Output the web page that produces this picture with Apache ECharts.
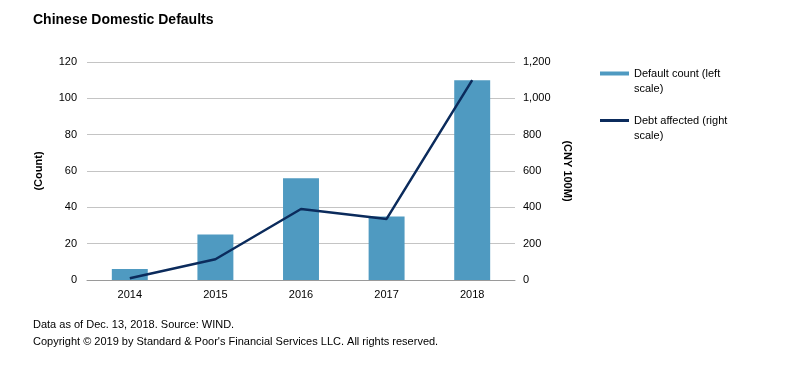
<!DOCTYPE html>
<html><head><meta charset="utf-8">
<script src="https://cdn.jsdelivr.net/npm/echarts@6/dist/echarts.min.js"></script>
<style>html,body{margin:0;padding:0;background:#fff}#c{width:799px;height:381px}</style>
</head><body><div id="c"></div>
<script>
const categories = ['2014','2015','2016','2017','2018'];
const defaultCount = [6, 25, 56, 35, 110];
const debtAffected = [10, 114, 391, 336, 1100];
const leftTicks = {min:0, max:120, interval:20};
const rightTicks = {min:0, max:1200, interval:200};
const barName = 'Default count (left\nscale)';
const lineName = 'Debt affected (right\nscale)';

const FONT = '"Liberation Sans", Arial, sans-serif';
const chart = echarts.init(document.getElementById('c'), null, {renderer:'canvas'});
const legendText = {fontFamily:FONT, fontSize:11, color:'#000', lineHeight:15};
chart.setOption({
  animation:false,
  textStyle:{fontFamily:FONT},
  title:{text:'Chinese Domestic Defaults', left:33, top:13, padding:0,
    textStyle:{fontFamily:FONT, fontSize:14, fontWeight:'bold', color:'#000'}},
  grid:{left:87, right:284, top:62, bottom:101},
  legend:[
    {data:[{name:barName, icon:'rect'}], left:600, top:51, padding:0, orient:'vertical', itemWidth:29, itemHeight:4,
     formatter:n=>'\n'+n, textStyle:legendText},
    {data:[{name:lineName, icon:'rect'}], left:600, top:98, padding:0, orient:'vertical', itemWidth:29, itemHeight:3,
     formatter:n=>'\n'+n, textStyle:legendText}
  ],
  xAxis:{type:'category', data:categories,
    axisLine:{lineStyle:{color:'#9a9a9a'}}, axisTick:{length:5, lineStyle:{color:'#9a9a9a'}},
    axisLabel:{color:'#000', fontSize:11, fontFamily:FONT, margin:9}},
  yAxis:[
    {type:'value', min:leftTicks.min, max:leftTicks.max, interval:leftTicks.interval,
     name:'(Count)', nameLocation:'middle', nameGap:43, nameRotate:90,
     nameTextStyle:{fontFamily:FONT, fontSize:11, fontWeight:'bold', color:'#000'},
     axisLine:{show:false}, axisTick:{show:false},
     axisLabel:{color:'#000', fontSize:11, fontFamily:FONT, margin:10},
     splitLine:{lineStyle:{color:'#c4c4c4'}}},
    {type:'value', min:rightTicks.min, max:rightTicks.max, interval:rightTicks.interval,
     name:'(CNY 100M)', nameLocation:'middle', nameGap:37, nameRotate:-90,
     nameTextStyle:{fontFamily:FONT, fontSize:11, fontWeight:'bold', color:'#000'},
     axisLine:{show:false}, axisTick:{show:false},
     axisLabel:{color:'#000', fontSize:11, fontFamily:FONT, margin:8,
       formatter:v=>v.toLocaleString('en-US')},
     splitLine:{show:false}}
  ],
  series:[
    {name:barName, type:'bar', data:defaultCount, yAxisIndex:0, barWidth:'42%',
     itemStyle:{color:'#4f9ac1'}},
    {name:lineName, type:'line', data:debtAffected, yAxisIndex:1, symbol:'none',
     lineStyle:{color:'#0b2b5c', width:2.5}, itemStyle:{color:'#0b2b5c'}}
  ],
  graphic:[
    {type:'text', left:33, top:319, style:{text:'Data as of Dec. 13, 2018. Source: WIND.', font:'11px '+FONT, fill:'#000'}},
    {type:'text', left:33, top:336, style:{text:"Copyright © 2019 by Standard & Poor's Financial Services LLC. All rights reserved.", font:'11px '+FONT, fill:'#000'}}
  ]
});
</script></body></html>
